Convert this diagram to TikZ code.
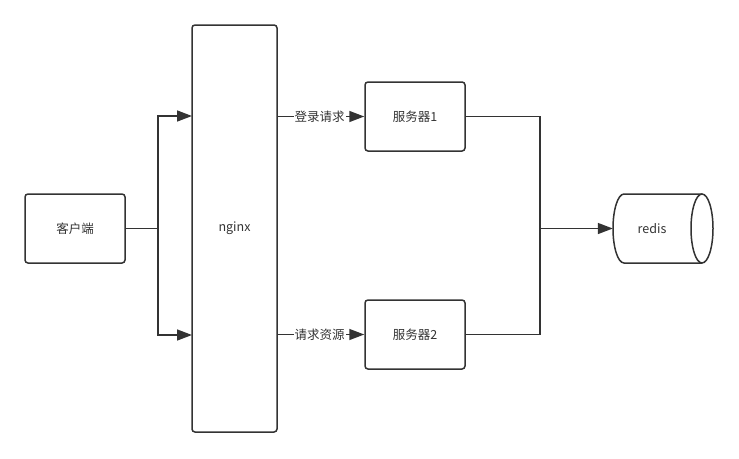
\documentclass[tikz,border=0pt]{standalone}
\usepackage{fontspec}
\setmainfont{Noto Sans CJK SC}
\usetikzlibrary{arrows.meta}
\definecolor{ink}{RGB}{51,51,51}
\begin{document}
\begin{tikzpicture}[x=1pt,y=-1pt,
  box/.style={draw=ink,line width=1.5pt,rounded corners=3pt,minimum width=100pt,minimum height=69pt,inner sep=0pt,text=ink,font=\fontsize{12.5}{14}\selectfont},
  conn/.style={draw=ink,line width=1.5pt},
  arr/.style={conn,-{Triangle[length=15pt,width=11pt]}},
  lbl/.style={fill=white,inner sep=1pt,text=ink,font=\fontsize{12.5}{14}\selectfont}]
\useasboundingbox (0,0) rectangle (739,458);
\node[box] (client) at (75,228.5) {客户端};
\node[box,minimum width=85pt,minimum height=407pt] (nginx) at (234.5,228.5) {nginx};
\node[box] (s1) at (415,116.5) {服务器1};
\node[box] (s2) at (415,334.5) {服务器2};
\node[minimum width=78pt,minimum height=69pt,inner sep=0pt,text=ink,font=\fontsize{12.5}{14}\selectfont] (redis) at (652,228.5) {redis};
% cylinder outline
\draw[conn] (702,194) -- (624,194) arc[start angle=270,end angle=90,x radius=11,y radius=34.5] -- (702,263);
\draw[conn] (702,228.5) ellipse[x radius=11,y radius=34.5];
\coordinate (j1) at (158,228.5);
\coordinate (n1) at (192,116);
\coordinate (n2) at (192,335);
\coordinate (o1) at (277,116.5);
\coordinate (o2) at (277,334.5);
\coordinate (j2) at (540,228.5);
\draw[conn] (client.east) -- (j1);
\draw[arr] (j1) |- (n1);
\draw[arr] (j1) |- (n2);
\draw[arr] (o1) -- node[lbl,xshift=-1pt] {登录请求} (s1.west);
\draw[arr] (o2) -- node[lbl,xshift=-1pt] {请求资源} (s2.west);
\draw[conn] (s1.east) -| (j2);
\draw[conn] (s2.east) -| (j2);
\draw[arr] (j2) -- (redis.west);
\end{tikzpicture}
\end{document}
